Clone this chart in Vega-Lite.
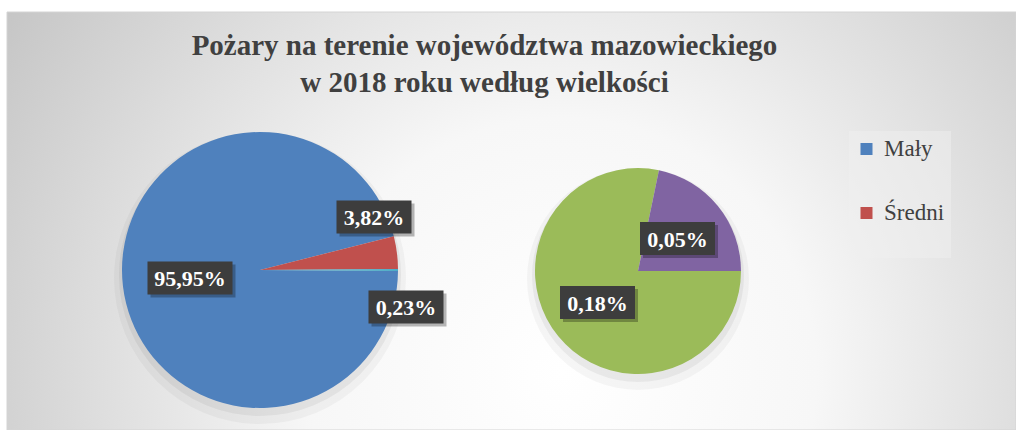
{
  "$schema": "https://vega.github.io/schema/vega-lite/v6.json",
  "width": 1009,
  "height": 418,
  "autosize": {"type": "none"},
  "padding": {"left": 7, "top": 12, "right": 0, "bottom": 0},
  "background": "#ffffff",
  "config": {
    "view": {"stroke": null},
    "locale": {"number": {"decimal": ",", "thousands": "\u00a0", "grouping": [3], "currency": ["", " zł"]}}
  },
  "params": [
    {"name": "cx1", "value": 253},
    {"name": "cy1", "value": 258},
    {"name": "r1", "value": 138},
    {"name": "cx2", "value": 631},
    {"name": "cy2", "value": 259},
    {"name": "r2", "value": 103},
    {"name": "dd", "expr": "sqrt(pow(cx2 - cx1 - r1, 2) + pow(cy2 - cy1, 2))"}
  ],
  "datasets": {
    "glowny": [
      {"rodzaj": "Mały", "udzial": 0.9595},
      {"rodzaj": "Średni", "udzial": 0.0382},
      {"rodzaj": "Inne", "udzial": 0.0023}
    ],
    "pomocniczy": [
      {"rodzaj": "Duży", "udzial": 0.0018},
      {"rodzaj": "Bardzo duży", "udzial": 0.0005}
    ]
  },
  "title": {
    "text": ["Pożary na terenie województwa mazowieckiego", "w 2018 roku według wielkości"],
    "font": "Liberation Serif",
    "fontSize": 29,
    "fontWeight": "bold",
    "color": "#404040",
    "lineHeight": 37,
    "anchor": "middle",
    "frame": "group",
    "baseline": "top",
    "offset": 0,
    "dx": -27,
    "dy": 86
  },
  "resolve": {"scale": {"theta": "independent"}},
  "layer": [
    {
      "data": {"name": "glowny"},
      "transform": [{"aggregate": [{"op": "count", "as": "n"}]}],
      "mark": {
        "type": "rect",
        "x": 0, "y": 0, "x2": "width", "y2": "height",
        "stroke": "#d4d4d4",
        "strokeWidth": 1,
        "fill": {
          "gradient": "radial",
          "x1": 0.55, "y1": 0.65, "r1": 0,
          "x2": 0.55, "y2": 0.65, "r2": 0.72,
          "stops": [
            {"offset": 0, "color": "#ffffff"},
            {"offset": 0.35, "color": "#f7f7f7"},
            {"offset": 1, "color": "#bebebe"}
          ]
        }
      },
      "encoding": {}
    },
    {
      "data": {"name": "glowny"},
      "transform": [{"aggregate": [{"op": "count", "as": "n"}]}],
      "mark": {"type": "arc", "x": {"expr": "cx1"}, "y": {"expr": "cy1 + 8"}, "outerRadius": {"expr": "r1 + 8"}, "fill": "#000000", "opacity": 0.035},
      "encoding": {}
    },
    {
      "data": {"name": "glowny"},
      "transform": [{"aggregate": [{"op": "count", "as": "n"}]}],
      "mark": {"type": "arc", "x": {"expr": "cx1"}, "y": {"expr": "cy1 + 5"}, "outerRadius": {"expr": "r1 + 3"}, "fill": "#000000", "opacity": 0.05},
      "encoding": {}
    },
    {
      "data": {"name": "glowny"},
      "transform": [{"aggregate": [{"op": "count", "as": "n"}]}],
      "mark": {"type": "arc", "x": {"expr": "cx2"}, "y": {"expr": "cy2 + 8"}, "outerRadius": {"expr": "r2 + 8"}, "fill": "#000000", "opacity": 0.035},
      "encoding": {}
    },
    {
      "data": {"name": "glowny"},
      "transform": [{"aggregate": [{"op": "count", "as": "n"}]}],
      "mark": {"type": "arc", "x": {"expr": "cx2"}, "y": {"expr": "cy2 + 5"}, "outerRadius": {"expr": "r2 + 3"}, "fill": "#000000", "opacity": 0.05},
      "encoding": {}
    },
    {
      "data": {"name": "glowny"},
      "mark": {"type": "arc", "x": {"expr": "cx1"}, "y": {"expr": "cy1"}, "outerRadius": {"expr": "r1"}},
      "encoding": {
        "theta": {"field": "udzial", "type": "quantitative", "stack": true, "scale": {"range": [1.56357, 7.84676], "nice": false, "zero": true}},
        "color": {
          "field": "rodzaj", "type": "nominal",
          "scale": {"domain": ["Mały", "Średni", "Duży", "Bardzo duży", "Inne"], "range": ["#4F81BD", "#C0504D", "#9BBB59", "#8064A2", "#4BACC6"]},
          "legend": {
            "values": ["Mały", "Średni"],
            "orient": "none", "legendX": 842, "legendY": 119,
            "title": " ", "titleOrient": "bottom", "titleFontSize": 10, "titlePadding": 17,
            "direction": "vertical",
            "symbolType": "square", "symbolSize": 144, "symbolStrokeWidth": 0,
            "labelFont": "Liberation Serif", "labelFontSize": 23, "labelColor": "#404040",
            "labelOffset": 6, "rowPadding": 40, "padding": 6, "clipHeight": 24,
            "fillColor": "rgba(240,240,240,0.5)"
          }
        }
      }
    },
    {
      "data": {"name": "pomocniczy"},
      "mark": {"type": "arc", "x": {"expr": "cx2"}, "y": {"expr": "cy2"}, "outerRadius": {"expr": "r2"}},
      "encoding": {
        "theta": {"field": "udzial", "type": "quantitative", "stack": true, "scale": {"range": [0.20489, 6.48808], "nice": false, "zero": true}},
        "color": {"field": "rodzaj", "type": "nominal"}
      }
    },
    {
      "data": {"name": "glowny"},
      "transform": [{"filter": "datum.rodzaj == 'Inne'"}],
      "mark": {
        "type": "rule", "stroke": "#7f7f7f", "strokeWidth": 1.5,
        "x": {"expr": "cx1 + r1"}, "y": {"expr": "cy1"},
        "x2": {"expr": "cx2 - r2 * r2 / dd"}, "y2": {"expr": "cy2 - r2 * sqrt(1 - pow(r2 / dd, 2))"}
      },
      "encoding": {}
    },
    {
      "data": {"name": "glowny"},
      "transform": [{"filter": "datum.rodzaj == 'Inne'"}],
      "mark": {
        "type": "rule", "stroke": "#7f7f7f", "strokeWidth": 1.5,
        "x": {"expr": "cx1 + r1"}, "y": {"expr": "cy1"},
        "x2": {"expr": "cx2 - r2 * r2 / dd"}, "y2": {"expr": "cy2 + r2 * sqrt(1 - pow(r2 / dd, 2))"}
      },
      "encoding": {}
    },
    {
      "data": {"name": "glowny"},
      "mark": {"type": "rect", "fill": "#000000", "opacity": 0.28},
      "encoding": {
        "x": {"value": {"expr": "cx1 + (datum.rodzaj == 'Mały' ? -70 : datum.rodzaj == 'Średni' ? 114 : 146) - (datum.rodzaj == 'Mały' ? 42.5 : 37.5) + 3"}},
        "x2": {"value": {"expr": "cx1 + (datum.rodzaj == 'Mały' ? -70 : datum.rodzaj == 'Średni' ? 114 : 146) + (datum.rodzaj == 'Mały' ? 42.5 : 37.5) + 3"}},
        "y": {"value": {"expr": "cy1 + (datum.rodzaj == 'Mały' ? 8 : datum.rodzaj == 'Średni' ? -53 : 37) - 16.5 + 3"}},
        "y2": {"value": {"expr": "cy1 + (datum.rodzaj == 'Mały' ? 8 : datum.rodzaj == 'Średni' ? -53 : 37) + 16.5 + 3"}}
      }
    },
    {
      "data": {"name": "glowny"},
      "mark": {"type": "rect", "fill": "#3d3d3d"},
      "encoding": {
        "x": {"value": {"expr": "cx1 + (datum.rodzaj == 'Mały' ? -70 : datum.rodzaj == 'Średni' ? 114 : 146) - (datum.rodzaj == 'Mały' ? 42.5 : 37.5)"}},
        "x2": {"value": {"expr": "cx1 + (datum.rodzaj == 'Mały' ? -70 : datum.rodzaj == 'Średni' ? 114 : 146) + (datum.rodzaj == 'Mały' ? 42.5 : 37.5)"}},
        "y": {"value": {"expr": "cy1 + (datum.rodzaj == 'Mały' ? 8 : datum.rodzaj == 'Średni' ? -53 : 37) - 16.5"}},
        "y2": {"value": {"expr": "cy1 + (datum.rodzaj == 'Mały' ? 8 : datum.rodzaj == 'Średni' ? -53 : 37) + 16.5"}}
      }
    },
    {
      "data": {"name": "glowny"},
      "mark": {"type": "text", "font": "Liberation Serif", "fontSize": 22, "fontWeight": "bold", "fill": "#ffffff", "align": "center", "baseline": "middle"},
      "encoding": {
        "x": {"value": {"expr": "cx1 + (datum.rodzaj == 'Mały' ? -70 : datum.rodzaj == 'Średni' ? 114 : 146)"}},
        "y": {"value": {"expr": "cy1 + (datum.rodzaj == 'Mały' ? 8 : datum.rodzaj == 'Średni' ? -53 : 37) + 1"}},
        "text": {"field": "udzial", "type": "quantitative", "format": ".2%"}
      }
    },
    {
      "data": {"name": "pomocniczy"},
      "mark": {"type": "rect", "fill": "#000000", "opacity": 0.28},
      "encoding": {
        "x": {"value": {"expr": "cx2 + (datum.rodzaj == 'Duży' ? -40.5 : 39.5) - 37.5 + 3"}},
        "x2": {"value": {"expr": "cx2 + (datum.rodzaj == 'Duży' ? -40.5 : 39.5) + 37.5 + 3"}},
        "y": {"value": {"expr": "cy2 + (datum.rodzaj == 'Duży' ? 31.5 : -32.5) - 16.5 + 3"}},
        "y2": {"value": {"expr": "cy2 + (datum.rodzaj == 'Duży' ? 31.5 : -32.5) + 16.5 + 3"}}
      }
    },
    {
      "data": {"name": "pomocniczy"},
      "mark": {"type": "rect", "fill": "#3d3d3d"},
      "encoding": {
        "x": {"value": {"expr": "cx2 + (datum.rodzaj == 'Duży' ? -40.5 : 39.5) - 37.5"}},
        "x2": {"value": {"expr": "cx2 + (datum.rodzaj == 'Duży' ? -40.5 : 39.5) + 37.5"}},
        "y": {"value": {"expr": "cy2 + (datum.rodzaj == 'Duży' ? 31.5 : -32.5) - 16.5"}},
        "y2": {"value": {"expr": "cy2 + (datum.rodzaj == 'Duży' ? 31.5 : -32.5) + 16.5"}}
      }
    },
    {
      "data": {"name": "pomocniczy"},
      "mark": {"type": "text", "font": "Liberation Serif", "fontSize": 22, "fontWeight": "bold", "fill": "#ffffff", "align": "center", "baseline": "middle"},
      "encoding": {
        "x": {"value": {"expr": "cx2 + (datum.rodzaj == 'Duży' ? -40.5 : 39.5)"}},
        "y": {"value": {"expr": "cy2 + (datum.rodzaj == 'Duży' ? 31.5 : -32.5) + 1"}},
        "text": {"field": "udzial", "type": "quantitative", "format": ".2%"}
      }
    }
  ]
}
